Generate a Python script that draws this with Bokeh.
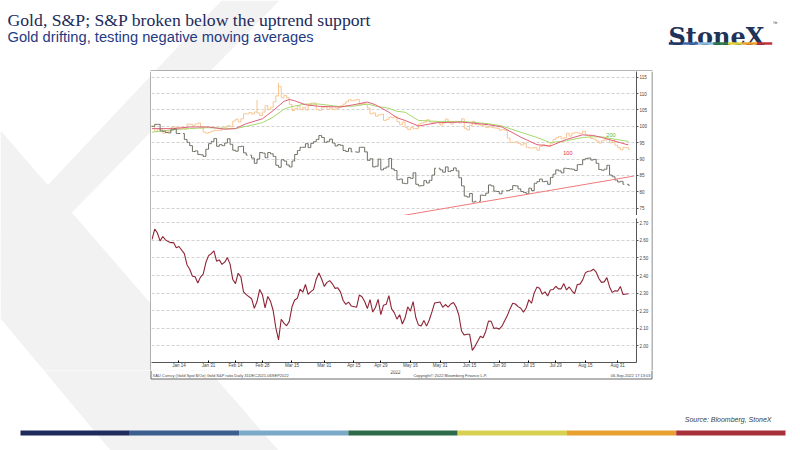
import numpy as np
import pandas as pd
from bokeh.plotting import figure
from bokeh.layouts import column, row
from bokeh.models import Range1d, FixedTicker
from bokeh.core.properties import value
from bokeh.embed import file_html
from bokeh.resources import INLINE

FIRST_DAY = "2021-12-31"
LAST_DAY = "2022-09-06"

# one bar per weekday, like the Bloomberg screen
days = pd.bdate_range(FIRST_DAY, LAST_DAY)

# S&P 500 rebased to 100 (None = US holiday), week by week
spx_rebased = [
    100.0,
    100.6, 100.6, 98.6, 98.5, 98.1,
    98.0, 98.9, 99.2, 97.8, 97.8,
    None, 96.0, 95.1, 94.1, 92.3,
    92.5, 91.4, 91.3, 90.8, 93.0,
    94.7, 95.4, 96.3, 93.9, 94.4,
    94.1, 94.9, 96.2, 94.5, 92.7,
    92.4, 93.8, 93.9, 91.9, 91.2,
    None, 90.3, 88.7, 90.0, 92.0,
    91.8, 90.4, 92.0, 91.6, 90.8,
    88.1, 87.5, 89.8, 89.4, 88.2,
    87.6, 89.4, 91.4, 92.6, 93.6,
    93.6, 94.7, 93.5, 94.8, 95.3,
    96.0, 97.2, 96.6, 95.1, 95.4,
    96.1, 94.9, 94.0, 94.4, 94.2,
    92.6, 92.3, 93.3, 92.2, None,
    92.1, 93.6, 93.6, 92.2, 89.6,
    90.1, 87.6, 87.8, 90.0, 86.7,
    87.2, 87.6, 90.2, 87.0, 86.5,
    83.7, 83.9, 82.6, 82.5, 84.4,
    84.1, 85.8, 82.3, 81.8, 81.9,
    83.4, 82.7, 83.5, 85.1, 87.2,
    None, 86.7, 86.0, 87.6, 86.2,
    86.5, 87.3, 86.4, 84.3, 81.8,
    78.7, 78.4, 79.5, 76.9, 77.1,
    None, 79.0, 78.9, 79.6, 82.1,
    81.8, 80.2, 80.1, 79.4, 80.3,
    None, 80.4, 80.7, 81.9, 81.8,
    80.9, 80.1, 79.8, 79.5, 81.1,
    80.4, 82.6, 83.1, 83.9, 83.1,
    83.2, 82.3, 84.4, 85.4, 86.7,
    86.4, 85.8, 87.2, 87.1, 87.0,
    86.9, 86.5, 88.3, 88.3, 89.8,
    90.2, 90.3, 89.7, 89.9, 88.7,
    86.8, 86.6, 86.9, 88.1, 85.1,
    84.6, 83.6, 83.0, 83.2, 82.3,
    None, 82.0,
]

# Gold spot rebased to 100
gold_rebased = [
    100.0,
    98.5, 99.2, 99.0, 97.9, 98.2,
    98.5, 99.6, 99.8, 99.6, 99.4,
    99.4, 99.1, 100.7, 100.6, 100.3,
    100.7, 101.0, 99.5, 98.2, 97.9,
    98.2, 98.5, 98.8, 98.7, 98.8,
    99.5, 99.8, 100.2, 99.9, 101.6,
    102.2, 101.3, 102.3, 103.8, 103.8,
    104.2, 103.8, 104.4, 104.1, 103.3,
    104.4, 106.3, 105.1, 105.8, 107.5,
    109.3, 112.1, 108.7, 109.4, 108.7,
    106.7, 104.8, 105.4, 106.2, 105.1,
    105.8, 105.0, 106.3, 107.1, 107.1,
    105.1, 104.9, 105.7, 105.9, 105.2,
    105.6, 105.1, 105.3, 105.6, 106.3,
    106.8, 107.5, 108.1, 107.8, 108.0,
    108.2, 106.6, 107.0, 106.7, 105.6,
    103.8, 104.1, 103.1, 103.5, 103.7,
    101.8, 102.1, 102.8, 102.6, 103.0,
    101.4, 100.5, 101.3, 99.6, 99.0,
    99.7, 99.3, 99.3, 100.7, 101.0,
    101.3, 102.0, 101.3, 101.2, 101.3,
    101.4, 100.4, 101.0, 102.2, 101.2,
    100.7, 101.3, 101.3, 101.0, 102.3,
    99.4, 98.9, 100.3, 101.5, 100.6,
    100.5, 100.2, 100.5, 99.6, 99.9,
    99.7, 99.5, 99.4, 98.8, 99.0,
    98.8, 96.4, 95.1, 95.1, 95.3,
    94.8, 94.3, 94.9, 93.6, 93.4,
    93.4, 93.5, 92.7, 93.9, 94.4,
    94.0, 93.9, 94.9, 96.0, 96.5,
    96.9, 96.2, 96.5, 97.9, 97.0,
    97.9, 98.1, 98.0, 97.8, 98.5,
    97.3, 97.1, 96.3, 96.1, 95.5,
    94.9, 95.6, 95.8, 96.1, 95.0,
    95.7, 94.2, 93.5, 92.8, 93.6,
    93.5, 93.0,
]

# intraday spikes visible on the gold bars
gold_high_spikes = {"2022-02-24": 108.0, "2022-03-08": 113.2}

# S&P / Gold ratio
spx_gold_ratio = [
    2.606,
    2.664, 2.642, 2.596, 2.622, 2.603,
    2.593, 2.587, 2.588, 2.558, 2.565,
    None, 2.525, 2.460, 2.436, 2.396,
    2.393, 2.357, 2.391, 2.408, 2.474,
    2.513, 2.524, 2.540, 2.481, 2.489,
    2.463, 2.476, 2.502, 2.465, 2.377,
    2.354, 2.413, 2.392, 2.307, 2.291,
    None, 2.268, 2.213, 2.252, 2.321,
    2.291, 2.216, 2.281, 2.254, 2.201,
    2.102, 2.034, 2.151, 2.129, 2.114,
    2.139, 2.222, 2.261, 2.271, 2.323,
    2.305, 2.349, 2.293, 2.308, 2.320,
    2.379, 2.414, 2.380, 2.338, 2.361,
    2.371, 2.353, 2.327, 2.330, 2.307,
    2.258, 2.236, 2.249, 2.227, None,
    2.219, 2.289, 2.279, 2.252, 2.212,
    2.263, 2.192, 2.218, 2.264, 2.178,
    2.231, 2.236, 2.286, 2.210, 2.189,
    2.152, 2.177, 2.124, 2.158, 2.222,
    2.197, 2.252, 2.161, 2.118, 2.113,
    2.144, 2.112, 2.147, 2.193, 2.244,
    None, 2.249, 2.219, 2.235, 2.220,
    2.238, 2.246, 2.220, 2.174, 2.084,
    2.061, 2.066, 2.066, 1.974, 1.997,
    None, 2.054, 2.046, 2.083, 2.141,
    2.139, 2.099, 2.101, 2.095, 2.112,
    None, 2.172, 2.210, 2.242, 2.238,
    2.223, 2.214, 2.191, 2.215, 2.262,
    2.242, 2.301, 2.334, 2.327, 2.294,
    2.307, 2.283, 2.318, 2.320, 2.339,
    2.324, 2.324, 2.354, 2.318, 2.335,
    2.313, 2.297, 2.349, 2.351, 2.375,
    2.415, 2.424, 2.426, 2.436, 2.420,
    2.383, 2.361, 2.364, 2.388, 2.335,
    2.304, 2.313, 2.311, 2.338, 2.292,
    None, 2.296,
]

# moving averages on gold, read at these dates
ma_dates = ["2021-12-31", "2022-01-12", "2022-01-20", "2022-01-31", "2022-02-08",
            "2022-02-14", "2022-02-18", "2022-02-28", "2022-03-04", "2022-03-10",
            "2022-03-14", "2022-03-16", "2022-03-22", "2022-03-29", "2022-04-08",
            "2022-04-15", "2022-04-22", "2022-04-27", "2022-05-04", "2022-05-09",
            "2022-05-12", "2022-05-19", "2022-05-30", "2022-06-10", "2022-06-24",
            "2022-07-01", "2022-07-12", "2022-07-20", "2022-07-27", "2022-08-04",
            "2022-08-12", "2022-08-18", "2022-08-23", "2022-08-29", "2022-09-06"]
gold_ma100 = [99.3, 99.3, 99.8, 99.8, 99.1, 99.3, 100.8, 102.3, 104.8, 107.6,
              108.2, 107.8, 106.6, 106.1, 105.9, 106.6, 107.4, 106.6, 104.3, 102.6,
              101.8, 100.1, 101.1, 101.3, 100.5, 99.8, 96.7, 94.4, 94.0, 96.0,
              97.4, 97.2, 96.6, 95.7, 94.3]
gold_ma200 = [98.2, 99.0, 99.3, 99.6, 99.4, 99.3, 100.0, 101.1, 102.8, 105.2,
              105.8, 106.2, 106.8, 106.8, 106.0, 106.2, 106.8, 106.2, 105.5, 104.6,
              104.3, 101.8, 101.5, 101.5, 100.8, 100.1, 98.2, 96.6, 95.0, 95.6,
              96.6, 96.8, 96.8, 96.2, 95.4]

# S&P uptrend support
trend_dates = ["2022-05-10", "2022-09-08"]
trend_values = [72.6, 84.8]

tick_dates = ["2022-01-14", "2022-01-31", "2022-02-14", "2022-02-28", "2022-03-15",
              "2022-03-31", "2022-04-15", "2022-04-29", "2022-05-16", "2022-05-31",
              "2022-06-15", "2022-06-30", "2022-07-15", "2022-07-29", "2022-08-15",
              "2022-08-31"]
tick_labels = ["Jan 14", "Jan 31", "Feb 14", "Feb 28", "Mar 15", "Mar 31", "Apr 15",
               "Apr 29", "May 16", "May 31", "Jun 15", "Jun 30", "Jul 15", "Jul 29",
               "Aug 15", "Aug 31"]
upper_ticks = [75, 80, 85, 90, 95, 100, 105, 110, 115]
lower_ticks = [2.0, 2.1, 2.2, 2.3, 2.4, 2.5, 2.6, 2.7]

TITLE = "Gold, S&P; S&P broken below the uptrend support"
SUBTITLE = "Gold drifting, testing negative moving averages"
BRAND_COLORS = ["#1f2a5c", "#3a5f8f", "#7aaac8", "#2e6b4a", "#d8d050", "#e8a030", "#a8303a"]
LOGO_COLORS = ["#1f3864", "#3c64a8", "#8bbbe0", "#2d7a4a", "#e0d23c", "#f0a02a", "#c0303a"]

assert len(spx_rebased) == len(days) == len(gold_rebased) == len(spx_gold_ratio)


def day_pos(d):
    return int(np.busday_count(FIRST_DAY, d))


# watermark "X" of the slide, in page pixels (y measured downwards)
chev_xs = [[0, 278, 110, 0], [221, 279, 0, 0]]
chev_ys = [[130, 450, 450, 318], [0, 0, 285, 235]]
BOX = "#6a6a6a"


def neg(seq):
    return [-v for v in seq]


def deco(x0, x1, y0, y1, chevron=True):
    # page-pixel canvas; y is negated so the range stays increasing
    p = figure(width=x1 - x0, height=y1 - y0, x_range=Range1d(x0, x1), y_range=Range1d(-y1, -y0),
               output_backend="svg", toolbar_location=None, x_axis_location=None,
               y_axis_location=None, min_border=0, outline_line_color=None, title=None)
    p.grid.visible = False
    if chevron:
        p.patches(xs=chev_xs, ys=[neg(s) for s in chev_ys], fill_color="#f2f2f2", line_color=None)
    return p


def bars(p, vals, color, spikes=None):
    xs, lo, hi, opn, cls = [], [], [], [], []
    prev = None
    for i, v in enumerate(vals):
        if v is None:
            continue
        o = v if prev is None else prev
        top, bot = max(o, v), min(o, v)
        key = days[i].strftime("%Y-%m-%d")
        if spikes and key in spikes:
            top = max(top, spikes[key])
        xs.append(i)
        lo.append(bot)
        hi.append(top)
        opn.append(o)
        cls.append(v)
        prev = v
    xs = np.array(xs, dtype=float)
    p.segment(x0=xs, y0=lo, x1=xs, y1=hi, line_color=color, line_width=1)
    p.segment(x0=xs - 0.5, y0=opn, x1=xs, y1=opn, line_color=color, line_width=1)
    p.segment(x0=xs, y0=cls, x1=xs + 0.5, y1=cls, line_color=color, line_width=1)


def style_right_axis(p, ticks, fmt):
    ax = p.yaxis[0]
    ax.ticker = FixedTicker(ticks=ticks)
    ax.major_label_overrides = {t: fmt.format(t) for t in ticks}
    ax.major_label_text_font = "Liberation Sans"
    ax.major_label_text_font_size = "4.5px"
    ax.major_label_text_color = "#444444"
    ax.major_label_standoff = 1
    ax.major_tick_out = 2
    ax.major_tick_in = 0
    ax.minor_tick_out = 0
    ax.minor_tick_in = 0
    ax.axis_line_color = "#555555"
    ax.major_tick_line_color = "#555555"
    p.ygrid.ticker = FixedTicker(ticks=ticks)
    p.ygrid.grid_line_color = "#d2d2d2"
    p.ygrid.grid_line_dash = "3 2"
    p.xgrid.visible = False


x_days = np.arange(len(days))
xr = Range1d(-0.2, 180.0)

# ---- upper panel: gold & S&P rebased
top = figure(width=500, height=144, x_range=xr, y_range=Range1d(72.77, 116.74),
             output_backend="svg", toolbar_location=None, x_axis_location=None,
             y_axis_location="right", min_border_left=0, min_border_right=12,
             min_border_top=0, min_border_bottom=0, outline_line_color=None, title=None)
style_right_axis(top, upper_ticks, "{:d}")
bars(top, gold_rebased, "#f9c48e", gold_high_spikes)
ma_x = [day_pos(d) for d in ma_dates]
top.line(ma_x, gold_ma200, line_color="#a6d86c", line_width=1)
top.line(ma_x, gold_ma100, line_color="#e0607a", line_width=1)
bars(top, spx_rebased, "#6e6e64")
top.line([day_pos(d) for d in trend_dates], trend_values, line_color="#f07a7a", line_width=1)
top.text(x=[154.5], y=[91.9], text=["100"], text_font=value("Liberation Sans"),
         text_font_size="5.5px", text_color="#e8283c", text_align="center", text_baseline="middle")
top.text(x=[170.5], y=[97.5], text=["200"], text_font=value("Liberation Sans"),
         text_font_size="5.5px", text_color="#55c030", text_align="center", text_baseline="middle")

# ---- separator between panels
sep = figure(width=500, height=3, output_backend="svg", toolbar_location=None,
             x_axis_location=None, y_axis_location=None, min_border=0, title=None,
             outline_line_color=None, background_fill_color="#333333",
             border_fill_color="#333333")
sep.grid.visible = False

# ---- lower panel: S&P / gold ratio
bot = figure(width=500, height=152, x_range=xr, y_range=Range1d(1.905, 2.7245),
             output_backend="svg", toolbar_location=None, y_axis_location="right",
             min_border_left=0, min_border_right=12, min_border_top=0, min_border_bottom=8,
             outline_line_color=None, title=None)
style_right_axis(bot, lower_ticks, "{:.2f}")
xa = bot.xaxis[0]
tick_pos = [day_pos(d) for d in tick_dates]
xa.ticker = FixedTicker(ticks=tick_pos)
xa.major_label_overrides = dict(zip(tick_pos, tick_labels))
xa.major_label_text_font = "Liberation Sans"
xa.major_label_text_font_size = "4.5px"
xa.major_label_text_color = "#444444"
xa.major_label_standoff = 0
xa.major_tick_out = 0
xa.major_tick_in = 2
xa.minor_tick_out = 0
xa.minor_tick_in = 0
xa.axis_line_color = "#555555"
ok = [i for i, v in enumerate(spx_gold_ratio) if v is not None]
bot.line([x_days[i] for i in ok], [spx_gold_ratio[i] for i in ok],
         line_color="#8e2436", line_width=1.1)

chart = column(top, sep, bot, spacing=0)

# ---- slide decorations
header = deco(0, 800, 0, 71)
header.text(x=[7], y=[-19.5], text=[TITLE], text_font=value("Liberation Serif"),
            text_font_size="17.7px", text_color="#1c2a5b", text_baseline="alphabetic")
header.text(x=[7], y=[-36.5], text=[SUBTITLE], text_font=value("Liberation Sans"),
            text_font_size="14.7px", text_color="#1f3a82", text_baseline="alphabetic")
header.text(x=[668], y=[-35.5], text=["StoneX"], text_font=value("DejaVu Serif"),
            text_font_style="bold", text_font_size="24px", text_color="#1e3357",
            text_baseline="alphabetic")
header.text(x=[772], y=[-22], text=["\u2122"], text_font=value("Liberation Sans"),
            text_font_size="5px", text_color="#1e3357", text_baseline="alphabetic")
seg = (771.7 - 668.3) / len(LOGO_COLORS)
header.quad(left=[668.3 + k * seg for k in range(7)], right=[668.3 + (k + 1) * seg for k in range(7)],
            top=-41.7, bottom=-44.2, fill_color=LOGO_COLORS, line_color=None)
header.line([150, 652], [-70.5, -70.5], line_color=BOX, line_width=1)

left_pad = deco(0, 151, 71, 370)
left_pad.line([150.5, 150.5], [-71, -370], line_color=BOX, line_width=1)
right_pad = deco(651, 800, 71, 370)
right_pad.line([651.5, 651.5], [-71, -370], line_color=BOX, line_width=1)

# footer: bottom of the Bloomberg box (year + footer line) and the slide foot
footer = deco(0, 800, 370, 450)
footer.quad(left=[151], right=[651], top=[-370], bottom=[-378], fill_color="white", line_color=None)
footer.line([150.5, 150.5, 651.5, 651.5], [-370, -378.5, -378.5, -370], line_color=BOX, line_width=1)
small = dict(text_font=value("Liberation Sans"), text_font_size="4px",
             text_color="#444444", text_baseline="middle")
footer.text(x=[395], y=[-371.2], text=["2022"], text_align="center",
            **{**small, "text_font_size": "4.5px"})
footer.text(x=[152], y=[-374.6], text=["XAU Curncy (Gold Spot   $/Oz)   Gold S&P ratio   Daily 31DEC2021-06SEP2022"],
            text_align="left", **small)
footer.text(x=[449.7], y=[-374.6], text=["Copyright\u00a9 2022 Bloomberg Finance L.P."],
            text_align="center", **small)
footer.text(x=[650], y=[-374.6], text=["06-Sep-2022 17:13:03"], text_align="right", **small)
footer.text(x=[771], y=[-418.5], text=["Source: Bloomberg, StoneX"], text_font=value("Liberation Sans"),
            text_font_style="italic", text_font_size="7px", text_color="#404040",
            text_align="right", text_baseline="alphabetic")
bseg = (785 - 20) / len(BRAND_COLORS)
footer.quad(left=[20 + k * bseg for k in range(7)], right=[20 + (k + 1) * bseg for k in range(7)],
            top=-430, bottom=-435, fill_color=BRAND_COLORS, line_color=None)

page = column(header, row(left_pad, chart, right_pad, spacing=0), footer, spacing=0)

open("out.html", "w").write(file_html(page, INLINE))
